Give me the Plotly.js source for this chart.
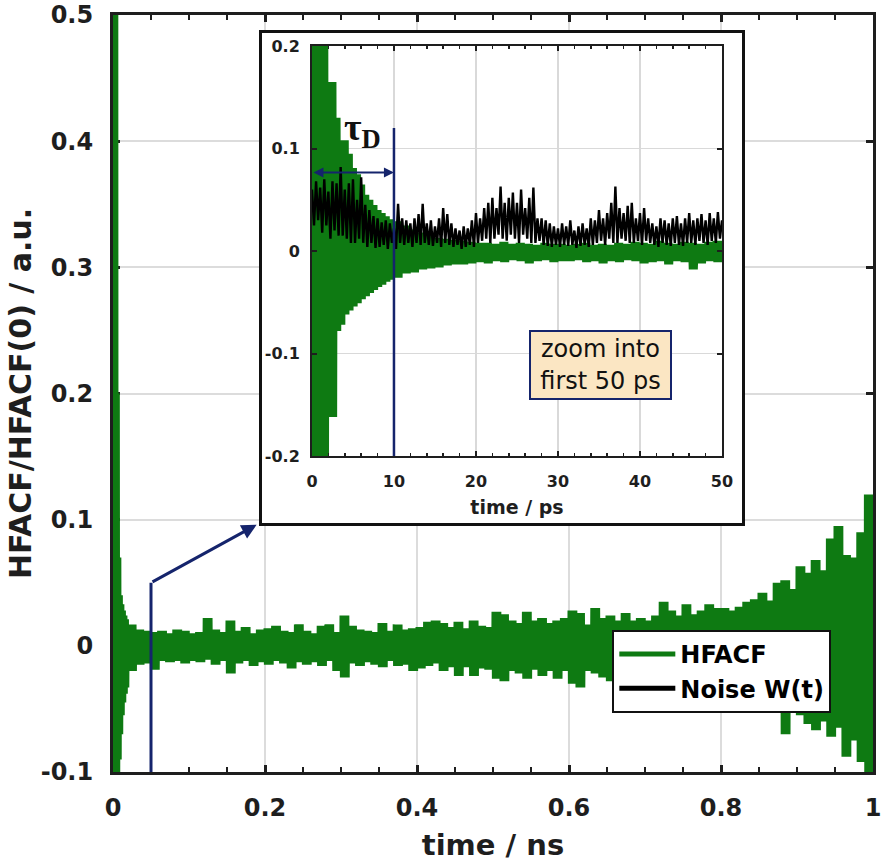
<!DOCTYPE html>
<html>
<head>
<meta charset="utf-8">
<script src="https://cdn.plot.ly/plotly-3.0.1.min.js"></script>
<style>html,body{margin:0;padding:0;background:#fff;}</style>
</head>
<body>
<div id="chart" style="width:886px;height:866px;"></div>
<script>
// ---------- DATA ----------
// Main panel: HFACF envelope (upper / lower edge of the dense oscillation), time in ns
const mainTime = [0,0.002,0.004,0.006,0.008,0.010,0.012,0.014,0.016,0.018,
  0.02,0.03,0.04,0.05,0.06,0.07,0.08,0.09,0.10,0.11,
  0.12,0.13,0.14,0.15,0.16,0.17,0.18,0.19,0.20,0.21,
  0.22,0.23,0.24,0.25,0.26,0.27,0.28,0.29,0.30,0.31,
  0.32,0.33,0.34,0.35,0.36,0.37,0.38,0.39,0.40,0.41,
  0.42,0.43,0.44,0.45,0.46,0.47,0.48,0.49,0.50,0.51,
  0.52,0.53,0.54,0.55,0.56,0.57,0.58,0.59,0.60,0.61,
  0.62,0.63,0.64,0.65,0.66,0.67,0.68,0.69,0.70,0.71,
  0.72,0.73,0.74,0.75,0.76,0.77,0.78,0.79,0.80,0.81,
  0.82,0.83,0.84,0.85,0.86,0.87,0.88,0.89,0.90,0.91,
  0.92,0.93,0.94,0.95,0.96,0.97,0.98,0.99,1.00];
const mainUpper = [1.0,0.7,0.55,0.2,0.07,0.04,0.033,0.028,0.024,0.021,
  0.017,0.013,0.012,0.011,0.012,0.010,0.013,0.012,0.010,0.011,
  0.022,0.013,0.011,0.020,0.012,0.015,0.010,0.013,0.014,0.016,
  0.012,0.011,0.017,0.012,0.010,0.016,0.017,0.011,0.024,0.016,
  0.013,0.012,0.011,0.018,0.012,0.017,0.013,0.014,0.015,0.019,
  0.020,0.018,0.015,0.019,0.014,0.020,0.016,0.015,0.027,0.025,
  0.020,0.018,0.027,0.020,0.022,0.018,0.020,0.022,0.028,0.026,
  0.017,0.030,0.022,0.024,0.020,0.026,0.020,0.022,0.020,0.024,
  0.035,0.028,0.024,0.033,0.025,0.028,0.033,0.030,0.030,0.028,
  0.031,0.035,0.037,0.042,0.036,0.050,0.052,0.045,0.063,0.058,
  0.068,0.060,0.085,0.095,0.072,0.070,0.090,0.120,0.115];
const mainLower = [-0.5,-0.4,-0.3,-0.12,-0.09,-0.07,-0.055,-0.045,-0.038,-0.033,
  -0.020,-0.015,-0.014,-0.019,-0.012,-0.013,-0.012,-0.014,-0.012,-0.013,
  -0.011,-0.015,-0.012,-0.022,-0.014,-0.012,-0.016,-0.013,-0.015,-0.012,
  -0.014,-0.018,-0.013,-0.015,-0.013,-0.016,-0.012,-0.020,-0.025,-0.014,
  -0.016,-0.013,-0.015,-0.017,-0.012,-0.016,-0.015,-0.020,-0.018,-0.016,
  -0.014,-0.020,-0.017,-0.024,-0.017,-0.024,-0.018,-0.019,-0.026,-0.028,
  -0.020,-0.022,-0.026,-0.019,-0.024,-0.020,-0.026,-0.020,-0.030,-0.033,
  -0.020,-0.022,-0.025,-0.028,-0.026,-0.030,-0.024,-0.028,-0.025,-0.030,
  -0.032,-0.026,-0.028,-0.030,-0.026,-0.030,-0.034,-0.030,-0.033,-0.036,
  -0.032,-0.038,-0.035,-0.040,-0.042,-0.045,-0.070,-0.050,-0.055,-0.062,
  -0.067,-0.060,-0.072,-0.065,-0.088,-0.075,-0.092,-0.110,-0.100];

// Inset: HFACF envelope, time in ps
const insetTime = [0,0.5,1,1.5,2,2.5,3,3.5,4,4.5,5,5.5,6,6.5,7,7.5,8,8.5,9,9.5,10,
  11,12,13,14,15,16,17,18,19,20,21,22,23,24,25,26,27,28,29,30,
  31,32,33,34,35,36,37,38,39,40,41,42,43,44,45,46,47,48,49,50];
const insetUpper = [0.25,0.25,0.25,0.25,0.165,0.165,0.13,0.108,0.108,0.095,0.081,0.075,0.065,0.055,0.05,0.045,0.04,0.037,0.034,0.031,0.029,
  0.025,0.021,0.018,0.016,0.013,0.012,0.011,0.010,0.009,0.008,
  0.008,0.007,0.009,0.007,0.008,0.007,0.006,0.008,0.007,0.007,
  0.006,0.007,0.008,0.006,0.007,0.006,0.008,0.007,0.009,0.008,
  0.007,0.010,0.008,0.007,0.009,0.008,0.007,0.009,0.010,0.010];
const insetLower = [-0.25,-0.25,-0.25,-0.25,-0.162,-0.162,-0.078,-0.072,-0.062,-0.058,-0.054,-0.051,-0.047,-0.044,-0.041,-0.038,-0.035,-0.033,-0.030,-0.028,-0.026,
  -0.022,-0.021,-0.018,-0.017,-0.016,-0.014,-0.013,-0.013,-0.012,-0.011,
  -0.012,-0.010,-0.011,-0.009,-0.010,-0.012,-0.010,-0.009,-0.011,-0.010,
  -0.010,-0.009,-0.011,-0.010,-0.012,-0.010,-0.011,-0.009,-0.010,-0.012,
  -0.011,-0.010,-0.013,-0.010,-0.011,-0.018,-0.012,-0.010,-0.011,-0.010];

// Inset: noise W(t), time in ps
const noiseTime = [0,0.25,0.5,0.75,1,1.25,1.5,1.75,2,2.25,2.5,2.75,3,3.25,3.5,3.75,4,4.25,4.5,4.75,
  5,5.25,5.5,5.75,6,6.25,6.5,6.75,7,7.25,7.5,7.75,8,8.25,8.5,8.75,9,9.25,9.5,9.75,
  10,10.25,10.5,10.75,11,11.25,11.5,11.75,12,12.25,12.5,12.75,13,13.25,13.5,13.75,14,14.25,14.5,14.75,
  15,15.25,15.5,15.75,16,16.25,16.5,16.75,17,17.25,17.5,17.75,18,18.25,18.5,18.75,19,19.25,19.5,19.75,
  20,20.25,20.5,20.75,21,21.25,21.5,21.75,22,22.25,22.5,22.75,23,23.25,23.5,23.75,24,24.25,24.5,24.75,
  25,25.25,25.5,25.75,26,26.25,26.5,26.75,27,27.25,27.5,27.75,28,28.25,28.5,28.75,29,29.25,29.5,29.75,
  30,30.25,30.5,30.75,31,31.25,31.5,31.75,32,32.25,32.5,32.75,33,33.25,33.5,33.75,34,34.25,34.5,34.75,
  35,35.25,35.5,35.75,36,36.25,36.5,36.75,37,37.25,37.5,37.75,38,38.25,38.5,38.75,39,39.25,39.5,39.75,
  40,40.25,40.5,40.75,41,41.25,41.5,41.75,42,42.25,42.5,42.75,43,43.25,43.5,43.75,44,44.25,44.5,44.75,
  45,45.25,45.5,45.75,46,46.25,46.5,46.75,47,47.25,47.5,47.75,48,48.25,48.5,48.75,49,49.25,49.5,49.75,50];
const noiseValues = [
  0.060,0.025,0.068,0.030, 0.062,0.018,0.070,0.025, 0.058,0.012,0.068,0.020, 0.066,0.015,0.082,0.015, 0.060,0.012,0.066,0.008,
  0.070,0.008,0.050,0.012, 0.072,0.008,0.045,0.004, 0.040,0.008,0.034,0.003, 0.032,0.004,0.028,0.006, 0.030,0.002,0.027,0.008,
  0.022,0.002,0.046,0.008, 0.032,0.006,0.030,0.008, 0.027,0.004,0.032,0.008, 0.036,0.006,0.046,0.008, 0.027,0.006,0.030,0.005,
  0.024,0.008,0.032,0.004, 0.042,0.008,0.036,0.006, 0.027,0.004,0.022,0.006, 0.020,0.002,0.024,0.004, 0.022,0.006,0.030,0.004,
  0.037,0.008,0.032,0.010, 0.042,0.012,0.047,0.008, 0.052,0.012,0.042,0.016, 0.063,0.012,0.047,0.010, 0.052,0.016,0.057,0.012,
  0.047,0.008,0.060,0.016, 0.042,0.012,0.052,0.008, 0.062,0.008,0.032,0.010, 0.032,0.006,0.030,0.005, 0.027,0.004,0.024,0.006,
  0.022,0.004,0.027,0.006, 0.024,0.005,0.030,0.006, 0.020,0.003,0.024,0.005, 0.027,0.006,0.022,0.004, 0.032,0.006,0.030,0.008,
  0.040,0.010,0.032,0.006, 0.037,0.012,0.047,0.008, 0.063,0.008,0.042,0.012, 0.037,0.010,0.044,0.008, 0.047,0.008,0.032,0.010,
  0.037,0.006,0.042,0.010, 0.032,0.008,0.027,0.006, 0.024,0.004,0.032,0.008, 0.030,0.006,0.027,0.005, 0.032,0.008,0.034,0.006,
  0.027,0.005,0.032,0.008, 0.037,0.008,0.030,0.006, 0.032,0.010,0.036,0.008, 0.030,0.006,0.037,0.010, 0.032,0.008,0.038,0.012,
  0.030];

// Tick values and labels
const mainXTicks = [0,0.2,0.4,0.6,0.8,1];
const mainXLabels = ['0','0.2','0.4','0.6','0.8','1'];
const mainYTicks = [-0.1,0,0.1,0.2,0.3,0.4,0.5];
const mainYLabels = ['-0.1','0','0.1','0.2','0.3','0.4','0.5'];
const insetXTicks = [0,10,20,30,40,50];
const insetXLabels = ['0','10','20','30','40','50'];
const insetYTicks = [-0.2,-0.1,0,0.1,0.2];
const insetYLabels = ['-0.2','-0.1','0','0.1','0.2'];

// ---------- helpers ----------
// Dense oscillation drawn as an alternating path between the read upper and lower edges
function oscillation(times, upper, lower, dz) {
  const xs = [], ys = [];
  for (let i = 0; i < times.length - 1; i++) {
    const span = times[i + 1] - times[i];
    let n = Math.max(2, Math.round(span / dz));
    if (n % 2) n += 1;
    for (let k = 0; k < n; k++) {
      xs.push(times[i] + k * span / n);
      ys.push(k % 2 === 0 ? upper[i] : lower[i]);
    }
  }
  const last = times.length - 1;
  xs.push(times[last]); ys.push(upper[last]);
  xs.push(times[last]); ys.push(lower[last]);
  return { xs, ys };
}

const GREEN = '#0e7a12';
const NAVY = '#15246c';
const INK = '#1e1e1e';
const SANS = 'DejaVu Sans';

const mainOsc = oscillation(mainTime, mainUpper, mainLower, 0.0005);
const insetOsc = oscillation(insetTime, insetUpper, insetLower, 0.1);

const traces = [
  { type: 'scatter', mode: 'lines', name: 'HFACF', x: mainOsc.xs, y: mainOsc.ys,
    xaxis: 'x', yaxis: 'y', showlegend: false, line: { color: GREEN, width: 3, simplify: false }, hoverinfo: 'skip' },
  { type: 'scatter', mode: 'lines', x: [], y: [], xaxis: 'x2', yaxis: 'y2', showlegend: false, hoverinfo: 'skip' },
  { type: 'scatter', mode: 'lines', name: 'HFACF', x: insetOsc.xs, y: insetOsc.ys,
    xaxis: 'x3', yaxis: 'y3', showlegend: false, line: { color: GREEN, width: 2.5, simplify: false }, hoverinfo: 'skip' },
  { type: 'scatter', mode: 'lines', name: 'Noise W(t)', x: noiseTime, y: noiseValues,
    xaxis: 'x3', yaxis: 'y3', showlegend: false, line: { color: '#000000', width: 2.4, simplify: false }, hoverinfo: 'skip' },
  // legend keys (no data drawn)
  { type: 'scatter', mode: 'lines', name: 'HFACF', x: [null], y: [null], xaxis: 'x', yaxis: 'y',
    showlegend: true, line: { color: GREEN, width: 5 }, hoverinfo: 'skip' },
  { type: 'scatter', mode: 'lines', name: 'Noise W(t)', x: [null], y: [null], xaxis: 'x', yaxis: 'y',
    showlegend: true, line: { color: '#000000', width: 5 }, hoverinfo: 'skip' }
];

const mainTickFont = { family: SANS, size: 24, weight: 'bold', color: INK };
const insetTickFont = { family: SANS, size: 16, weight: 'bold', color: INK };

const layout = {
  width: 886, height: 866,
  margin: { l: 113, r: 13, t: 15, b: 94, pad: 0 },
  paper_bgcolor: '#ffffff', plot_bgcolor: '#ffffff',
  showlegend: true,
  legend: {
    x: 0.657, y: 0.1876, xanchor: 'left', yanchor: 'top',
    bgcolor: '#ffffff', bordercolor: '#111', borderwidth: 2,
    font: { family: SANS, size: 24, weight: 'bold', color: '#000' },
    itemwidth: 56, tracegroupgap: 0, traceorder: 'normal'
  },
  xaxis: {
    domain: [0, 1], range: [0, 1], anchor: 'y', automargin: false,
    tickvals: mainXTicks, ticktext: mainXLabels, tickfont: mainTickFont,
    ticks: 'inside', ticklen: 7, tickwidth: 3, tickcolor: INK, ticklabelstandoff: 12,
    minor: { dtick: 0.05, tick0: 0, ticks: 'inside', ticklen: 5, tickwidth: 2, tickcolor: INK, showgrid: false },
    showline: true, linecolor: INK, linewidth: 3, mirror: 'ticks',
    showgrid: true, gridcolor: '#dcdcdc', gridwidth: 2, zeroline: false, layer: 'below traces',
    title: { text: 'time / ns', font: { family: SANS, size: 29, weight: 'bold', color: INK }, standoff: 14 }
  },
  yaxis: {
    domain: [0, 1], range: [-0.1, 0.5], anchor: 'x', automargin: false,
    tickvals: mainYTicks, ticktext: mainYLabels, tickfont: mainTickFont,
    ticks: 'inside', ticklen: 7, tickwidth: 3, tickcolor: INK, ticklabelstandoff: 12,
    showline: true, linecolor: INK, linewidth: 3, mirror: 'ticks',
    showgrid: true, gridcolor: '#dcdcdc', gridwidth: 2, zeroline: false, layer: 'below traces',
    title: { text: 'HFACF/HFACF(0) / a.u.', font: { family: SANS, size: 30, weight: 'bold', color: INK }, standoff: 1 }
  },
  // white framed box that holds the inset
  xaxis2: {
    domain: [0.196, 0.8276], range: [0, 1], anchor: 'y2', automargin: false,
    showgrid: false, zeroline: false, showticklabels: false, ticks: '',
    showline: true, mirror: true, linecolor: '#111', linewidth: 3
  },
  yaxis2: {
    domain: [0.3289, 0.9762], range: [0, 1], anchor: 'x2', automargin: false,
    showgrid: false, zeroline: false, showticklabels: false, ticks: '',
    showline: true, mirror: true, linecolor: '#111', linewidth: 3
  },
  // inset axes
  xaxis3: {
    domain: [0.2618, 0.8013], range: [0, 50], anchor: 'y3', automargin: false,
    tickvals: insetXTicks, ticktext: insetXLabels, tickfont: insetTickFont,
    ticks: 'inside', ticklen: 5, tickwidth: 2, tickcolor: INK, ticklabelstandoff: 10,
    minor: { dtick: 2, tick0: 0, ticks: 'inside', ticklen: 3, tickwidth: 1.5, tickcolor: INK, showgrid: false },
    showline: true, linecolor: INK, linewidth: 2, mirror: 'ticks',
    showgrid: true, gridcolor: '#d9d9d9', gridwidth: 1.5, zeroline: false,
    title: { text: 'time / ps', font: { family: SANS, size: 19, weight: 'bold', color: INK }, standoff: 10 }
  },
  yaxis3: {
    domain: [0.4174, 0.959], range: [-0.2, 0.2], anchor: 'x3', automargin: false,
    tickvals: insetYTicks, ticktext: insetYLabels, tickfont: insetTickFont,
    ticks: 'inside', ticklen: 5, tickwidth: 2, tickcolor: INK, ticklabelstandoff: 7,
    showline: true, linecolor: INK, linewidth: 2, mirror: 'ticks',
    showgrid: true, gridcolor: '#d9d9d9', gridwidth: 1.5, zeroline: false
  },
  shapes: [
    { type: 'line', xref: 'x', yref: 'y', x0: 0.05, x1: 0.05, y0: -0.1, y1: 0.05,
      line: { color: NAVY, width: 3 }, layer: 'above' },
    { type: 'line', xref: 'x3', yref: 'y3', x0: 10, x1: 10, y0: -0.2, y1: 0.12,
      line: { color: NAVY, width: 2.5 }, layer: 'above' }
  ],
  annotations: [
    { xref: 'x', yref: 'y', x: 0.189, y: 0.096, axref: 'x', ayref: 'y', ax: 0.05, ay: 0.05,
      text: '', showarrow: true, arrowhead: 2, arrowsize: 1, arrowwidth: 3, arrowcolor: NAVY, standoff: 0 },
    { xref: 'x3', yref: 'y3', x: 10, y: 0.0765, axref: 'x3', ayref: 'y3', ax: 0, ay: 0.0765,
      text: '', showarrow: true, arrowside: 'end+start', arrowhead: 2, startarrowhead: 2,
      arrowsize: 1, startarrowsize: 1, arrowwidth: 2, arrowcolor: NAVY, standoff: 0, startstandoff: 0 },
    { xref: 'x3', yref: 'y3', x: 6.2, y: 0.118, text: 'τ<sub>D</sub>', showarrow: false,
      font: { family: 'Liberation Serif', size: 38, weight: 'bold', color: '#111' } },
    { xref: 'x3', yref: 'y3', x: 35.2, y: -0.111, text: 'zoom into<br>first 50 ps', showarrow: false,
      font: { family: SANS, size: 24, color: '#111' }, bgcolor: '#fbe6c3', bordercolor: NAVY,
      borderwidth: 2, borderpad: 2, width: 135, height: 62, align: 'center' }
  ]
};

Plotly.newPlot('chart', traces, layout, { staticPlot: true, displayModeBar: false });
</script>
</body>
</html>
